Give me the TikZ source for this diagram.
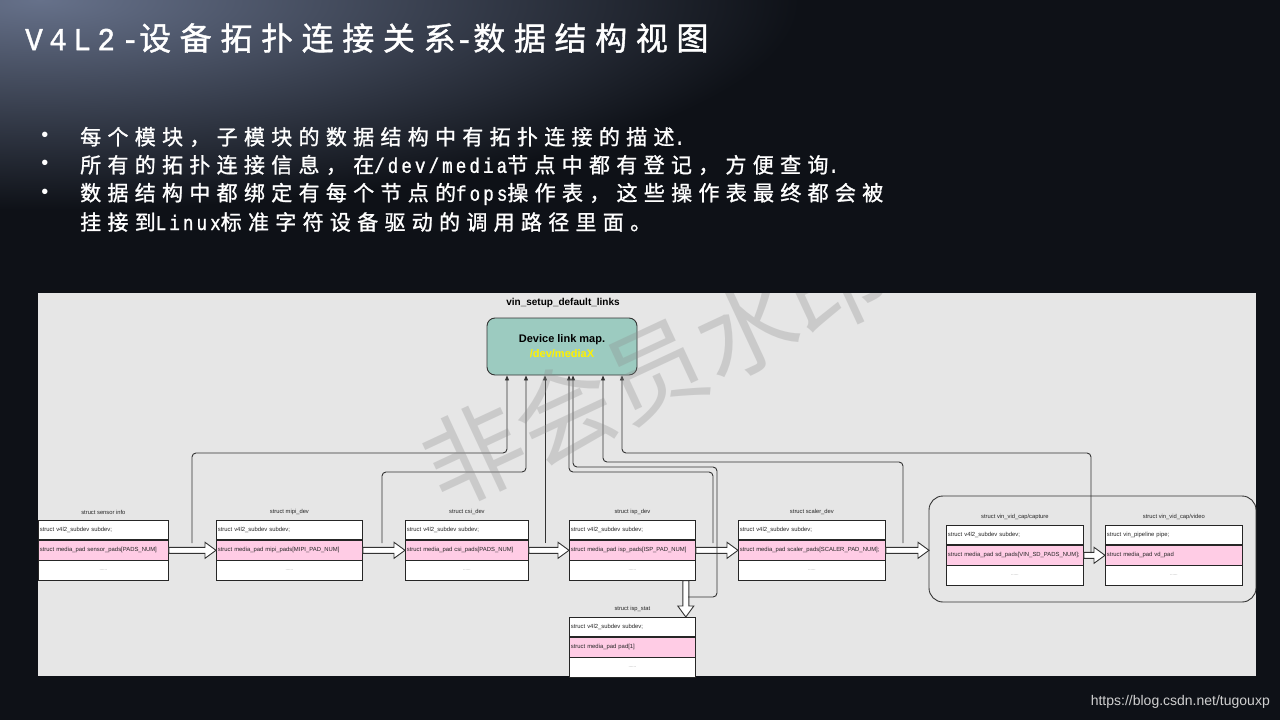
\documentclass[tikz,border=0pt]{standalone}
\usepackage{fontspec}
\setmainfont{Liberation Sans}
\newfontfamily\cjkT[LetterSpace=27,FakeBold=1.2]{Noto Sans CJK SC}
\newfontfamily\cjkB[LetterSpace=30,FakeBold=1.2]{Noto Sans CJK SC}
\newfontfamily\monoT[FakeStretch=0.92,LetterSpace=20,FakeBold=1.2]{Liberation Mono}
\newfontfamily\monoB[FakeStretch=0.83,LetterSpace=15,FakeBold=1.2]{Liberation Mono}
\newfontfamily\wmfont{Noto Sans CJK SC}
\usetikzlibrary{arrows.meta,calc}
\definecolor{bgdark}{HTML}{0E1117}
\definecolor{glow}{HTML}{66718A}
\definecolor{panelgray}{HTML}{E6E6E6}
\definecolor{devfill}{HTML}{9CCBC0}
\definecolor{rowpink}{HTML}{FFCCE5}
\definecolor{linec}{HTML}{333333}
\definecolor{wmgray}{HTML}{8C8C8C}
\definecolor{urlgray}{HTML}{D0D0D0}
\tikzset{
  rowbox/.style={draw=black!85, line width=0.8pt, fill=white, minimum height=19.4pt,
    inner xsep=1.5pt, inner ysep=0pt, align=left, text=black!85,
    font=\fontsize{5.9}{7}\selectfont},
  stitle/.style={text=black!85, inner sep=0pt, font=\fontsize{5.8}{7}\selectfont},
  link/.style={draw=linec, line width=0.9pt, rounded corners=4pt,
    -{Triangle[length=5pt,width=4pt]}},
  flexarr/.style={draw=linec, line width=0.9pt, fill=white, line join=miter},
  bullettext/.style={anchor=west, text=white, inner sep=0pt},
}
\newcommand\structbox[7]{%
  \pgfmathsetmacro\sbw{#4-3}%
  \node[rowbox, text width=\sbw pt, anchor=north west] (#1-a) at (#2,#3) {\mbox{#6}};
  \node[rowbox, fill=rowpink, text width=\sbw pt, anchor=north] (#1-b) at (#1-a.south) {\mbox{#7}};
  \node[rowbox, text width=\sbw pt, anchor=north, align=center, text=gray,
    font=\fontsize{4.5}{6}\selectfont] (#1-c) at (#1-b.south) {......};
  \node[stitle, anchor=south] (#1-t) at ($(#1-a.north)+(0,-5)$) {#5};
}
\newcommand\flexh[2]{%
  \draw[flexarr] ($(#1)+(0,-3)$) -- ($(#2)+(-11,-3)$) -- ($(#2)+(-11,-8)$) -- (#2)
    -- ($(#2)+(-11,8)$) -- ($(#2)+(-11,3)$) -- ($(#1)+(0,3)$) -- cycle;}
\newcommand\flexv[2]{%
  \draw[flexarr] ($(#1)+(-3,0)$) -- ($(#2)+(-3,-11)$) -- ($(#2)+(-8,-11)$) -- (#2)
    -- ($(#2)+(8,-11)$) -- ($(#2)+(3,-11)$) -- ($(#1)+(3,0)$) -- cycle;}
\begin{document}
\begin{tikzpicture}[x=1pt,y=-1pt]
\useasboundingbox (0,0) rectangle (1280,720);
% background
\fill[bgdark] (0,0) rectangle (1280,720);
\begin{scope}
  \clip (0,0) rectangle (1280,720);
  \shade[inner color=glow, outer color=bgdark] (40,0) ellipse [x radius=760, y radius=210];
\end{scope}
% title
\node[anchor=west, text=white, inner sep=0pt] (title) at (25,38)
  {\fontsize{32}{36}\selectfont\monoT V4L2-\cjkT 设备拓扑连接关系\monoT -\cjkT 数据结构视图};
% bullets
\foreach \yy/\nm in {137/b1,165/b2,194/b3}{
  \node[text=white, inner sep=0pt, font=\fontsize{20}{24}\selectfont] (\nm) at (45,\yy) {•};
}
\node[bullettext] (l1) at (80,137) {\fontsize{21}{24}\selectfont\cjkB 每个模块，子模块的数据结构中有拓扑连接的描述\monoB .};
\node[bullettext] (l2) at (80,165) {\fontsize{21}{24}\selectfont\cjkB 所有的拓扑连接信息，在\monoB /dev/media\cjkB 节点中都有登记，方便查询\monoB .};
\node[bullettext] (l3) at (80,194) {\fontsize{21}{24}\selectfont\cjkB 数据结构中都绑定有每个节点的\monoB fops\cjkB 操作表，这些操作表最终都会被};
\node[bullettext] (l4) at (80,222) {\fontsize{21}{24}\selectfont\cjkB 挂接到\monoB Linux\cjkB 标准字符设备驱动的调用路径里面。};
% panel
\fill[panelgray] (38,293) rectangle (1256,676);
\node[inner sep=0pt, font=\bfseries\fontsize{10}{12}\selectfont] (ptitle) at (563,303) {vin\_setup\_default\_links};
\node[draw=linec, line width=0.9pt, fill=devfill, rounded corners=8pt,
  minimum width=150pt, minimum height=57pt] (dev) at (562,346.5) {};
\node[inner sep=0pt, font=\bfseries\fontsize{11}{13}\selectfont] (devl1) at (562,340) {Device link map.};
\node[inner sep=0pt, text=yellow, font=\bfseries\fontsize{11}{13}\selectfont] (devl2) at (562,354) {/dev/mediaX};
% group box
\draw[draw=linec, line width=0.9pt, rounded corners=14pt] (929,496) rectangle (1256,602);
\coordinate (grpw) at (929,549);
% structs
\structbox{sen}{38}{520}{130}{struct sensor info}{struct v4l2\_subdev subdev;}{struct media\_pad sensor\_pads[PADS\_NUM]}
\structbox{mip}{216}{520}{146}{struct mipi\_dev}{struct v4l2\_subdev subdev;}{struct media\_pad mipi\_pads[MIPI\_PAD\_NUM]}
\structbox{csi}{405}{520}{123}{struct csi\_dev}{struct v4l2\_subdev subdev;}{struct media\_pad csi\_pads[PADS\_NUM]}
\structbox{isp}{569}{520}{126}{struct isp\_dev}{struct v4l2\_subdev subdev;}{struct media\_pad isp\_pads[ISP\_PAD\_NUM]}
\structbox{scl}{738}{520}{147}{struct scaler\_dev}{struct v4l2\_subdev subdev;}{struct media\_pad scaler\_pads[SCALER\_PAD\_NUM];}
\structbox{cap}{946}{525}{137}{struct vin\_vid\_cap/capture}{struct v4l2\_subdev subdev;}{struct media\_pad sd\_pads[VIN\_SD\_PADS\_NUM];}
\structbox{vid}{1105}{525}{137}{struct vin\_vid\_cap/video}{struct vin\_pipeline pipe;}{struct media\_pad vd\_pad}
\structbox{sta}{569}{617}{126}{struct isp\_stat}{struct v4l2\_subdev subdev;}{struct media\_pad pad[1]}
% hollow arrows
\coordinate (grpin) at (grpw |- scl-b.east);
\flexh{sen-b.east}{mip-b.west}
\flexh{mip-b.east}{csi-b.west}
\flexh{csi-b.east}{isp-b.west}
\flexh{isp-b.east}{scl-b.west}
\flexh{scl-b.east}{grpin}
\flexh{cap-b.east}{vid-b.west}
\coordinate (vs) at ($(isp-c.south east)+(-10,0)$);
\coordinate (ve) at ($(sta-a.north east)+(-10,0)$);
\flexv{vs}{ve}
% links to device
\coordinate (c1) at (192,543); \coordinate (j1) at (507,453);
\coordinate (c2) at (382,543); \coordinate (j2) at (526,472);
\coordinate (c3) at (545,543);
\coordinate (c4) at (713,543); \coordinate (j4) at (569,472);
\coordinate (c5) at (688,597); \coordinate (k5) at (717,467); \coordinate (j5) at (573,467);
\coordinate (c6) at (903,543); \coordinate (j6) at (603,462);
\coordinate (c7) at (1091,553); \coordinate (j7) at (622,453);
\draw[link] (c1) |- (j1) -- (j1 |- dev.south);
\draw[link] (c2) |- (j2) -- (j2 |- dev.south);
\draw[link] (c3) -- (c3 |- dev.south);
\draw[link] (c4) |- (j4) -- (j4 |- dev.south);
\draw[link] (c5) -| (k5) -- (j5) -- (j5 |- dev.south);
\draw[link] (c6) |- (j6) -- (j6 |- dev.south);
\draw[link] (c7) |- (j7) -- (j7 |- dev.south);
% watermark
\begin{scope}
  \clip (38,293) rectangle (1256,676);
  \node[rotate=25, text=wmgray, opacity=0.3, inner sep=0pt,
    font=\wmfont\fontsize{100}{100}\selectfont] (wm) at (655,370) {非会员水印};
\end{scope}
% url
\node[anchor=east, text=urlgray, inner sep=0pt, font=\fontsize{14}{16}\selectfont] (url) at (1270,702) {https://blog.csdn.net/tugouxp};
\end{tikzpicture}
\end{document}
